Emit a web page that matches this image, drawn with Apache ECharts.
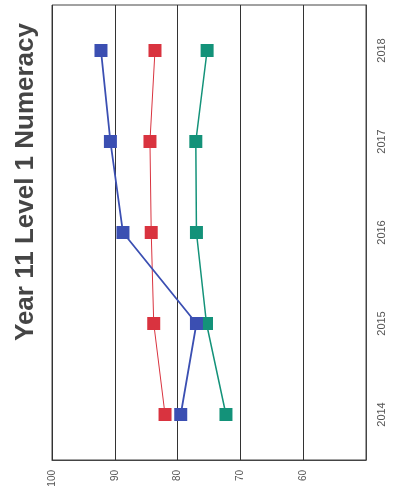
<!DOCTYPE html>
<html>
<head>
<meta charset="utf-8">
<script src="https://cdn.jsdelivr.net/npm/echarts@6/dist/echarts.min.js"></script>
<style>
  html, body { margin: 0; padding: 0; background: #fff; }
  #chart { width: 398px; height: 493px; }
</style>
</head>
<body>
<div id="chart"></div>
<script>
// years along the (rotated) category axis
var years = ["2014", "2015", "2016", "2017", "2018"];
// three series
var blueVals = [79.5, 77.0, 88.7, 90.7, 92.2];
var redVals = [82.0, 83.8, 84.2, 84.4, 83.6];
var greenVals = [72.3, 75.4, 77.0, 77.1, 75.3];
var titleText = "Year 11 Level 1 Numeracy";

var chart = echarts.init(document.getElementById("chart"));

function mkSeries(vals, color, width) {
  return {
    type: "line",
    data: vals,
    symbol: "rect",
    symbolSize: 13,
    itemStyle: { color: color },
    lineStyle: { color: color, width: width },
    animation: false
  };
}

chart.setOption({
  animation: false,
  graphic: [
    {
      type: "text",
      x: 26,
      y: 182,
      rotation: Math.PI / 2,
      style: {
        text: titleText,
        font: "bold 26px Liberation Sans, Arial, sans-serif",
        fill: "#454545",
        textAlign: "center",
        textVerticalAlign: "middle"
      }
    }
  ],
  grid: {
    left: 52,
    right: 32,
    top: 5,
    bottom: 33,
    show: true,
    borderColor: "#444",
    borderWidth: 1
  },
  xAxis: {
    type: "value",
    min: 50,
    max: 100,
    interval: 10,
    inverse: true,
    axisLine: { show: true, lineStyle: { color: "#444" } },
    axisTick: { show: false },
    splitLine: { show: true, lineStyle: { color: "#333", width: 1 } },
    axisLabel: {
      rotate: 90,
      color: "#555",
      fontSize: 10,
      fontFamily: "Liberation Sans, Arial, sans-serif",
      margin: 10,
      formatter: function (v) { return v === 50 ? "" : String(v); }
    }
  },
  yAxis: {
    type: "category",
    position: "right",
    data: years,
    axisLine: { show: true, lineStyle: { color: "#444" } },
    axisTick: { show: false },
    splitLine: { show: false },
    axisLabel: {
      rotate: 90,
      color: "#555",
      fontSize: 11,
      fontFamily: "Liberation Sans, Arial, sans-serif",
      margin: 10
    }
  },
  series: [
    mkSeries(redVals, "#d9333f", 1),
    mkSeries(greenVals, "#139279", 1.5),
    mkSeries(blueVals, "#3b4fb2", 1.8)
  ]
});
</script>
</body>
</html>
